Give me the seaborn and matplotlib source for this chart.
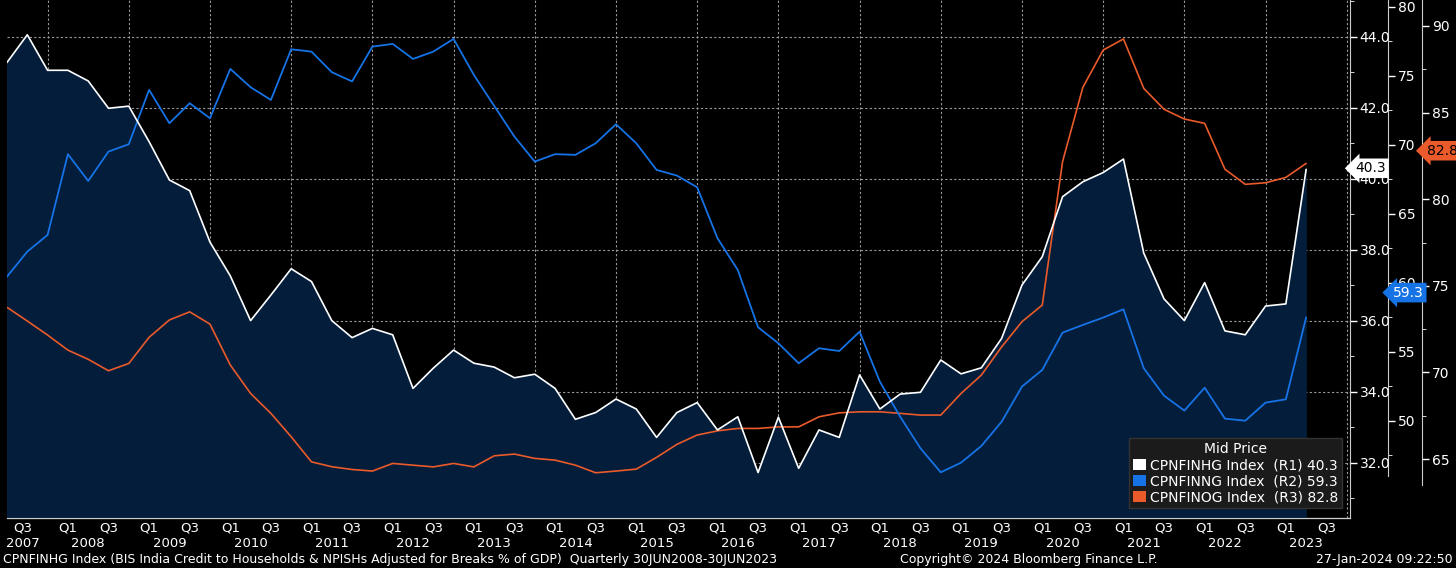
import numpy as np
import pandas as pd
import seaborn as sns
import matplotlib.pyplot as plt
from matplotlib.patches import Patch
from matplotlib.ticker import MultipleLocator, FixedLocator, FormatStrFormatter
import matplotlib.transforms as mtransforms

# quarterly points, Q3 2007 .. Q3 2023 (index 0..64)
households = [43.28, 44.06, 43.06, 43.06, 42.76, 41.99, 42.05, 41.05, 39.97, 39.67,
              38.22, 37.27, 36.01, 36.73, 37.47, 37.11, 36.01, 35.53, 35.79, 35.61,
              34.10, 34.67, 35.18, 34.81, 34.70, 34.40, 34.50, 34.10, 33.23, 33.42,
              33.80, 33.52, 32.72, 33.42, 33.70, 32.93, 33.30, 31.73, 33.29, 31.85,
              32.93, 32.72, 34.48, 33.52, 33.94, 33.99, 34.90, 34.51, 34.68, 35.51,
              37.01, 37.81, 39.50, 39.92, 40.18, 40.56, 37.91, 36.62, 36.01, 37.08,
              35.72, 35.61, 36.42, 36.48, 40.27]
nonfin_corp = [60.46, 62.27, 63.48, 69.33, 67.39, 69.52, 70.05, 73.99, 71.57, 73.02,
               71.93, 75.51, 74.18, 73.26, 76.93, 76.76, 75.27, 74.60, 77.12, 77.32,
               76.23, 76.76, 77.68, 75.07, 72.83, 70.60, 68.79, 69.33, 69.28, 70.12,
               71.50, 70.12, 68.19, 67.78, 66.93, 63.24, 60.94, 56.79, 55.63, 54.18,
               55.27, 55.07, 56.47, 52.85, 50.31, 48.02, 46.28, 46.98, 48.19, 49.95,
               52.49, 53.70, 56.40, 56.96, 57.49, 58.09, 53.82, 51.83, 50.75, 52.41,
               50.17, 50.02, 51.33, 51.57, 57.51]
government = [73.76, 72.97, 72.16, 71.29, 70.76, 70.10, 70.52, 72.03, 73.03, 73.50,
              72.79, 70.43, 68.79, 67.64, 66.29, 64.84, 64.56, 64.40, 64.31, 64.75,
              64.65, 64.55, 64.75, 64.55, 65.19, 65.29, 65.04, 64.94, 64.65, 64.21,
              64.31, 64.42, 65.10, 65.85, 66.39, 66.63, 66.77, 66.77, 66.86, 66.86,
              67.44, 67.67, 67.73, 67.73, 67.64, 67.54, 67.54, 68.79, 69.85, 71.48,
              72.93, 73.89, 82.17, 86.46, 88.61, 89.25, 86.40, 85.19, 84.63, 84.38,
              81.73, 80.86, 80.95, 81.26, 82.07]
years = list(range(2007, 2024))
last_vals = [40.3, 59.3, 82.8]
names = ["CPNFINHG Index", "CPNFINNG Index", "CPNFINOG Index"]

WHITE, BLUE, ORANGE = "#ffffff", "#1673e6", "#ea5a2a"
FILL = "#031d3a"
R1, R2, R3 = (30.45, 45.04), (42.97, 80.5), (61.6, 91.5)

df = pd.DataFrame({"q": np.arange(len(households)), "hh": households,
                   "nfc": nonfin_corp, "gov": government})
# blue and orange drawn on the main axes so they sit above the fill
df["nfc_r1"] = np.interp(df["nfc"], R2, R1)
df["gov_r1"] = np.interp(df["gov"], R3, R1)

sns.set_style("dark")
plt.rcParams.update({"figure.facecolor": "black", "axes.facecolor": "black",
                     "text.color": "white", "axes.edgecolor": "#bbbbbb"})
plt.rcParams["font.family"] = ["DejaVu Sans"]

fig = plt.figure(figsize=(14.56, 5.68), dpi=100)
ax = fig.add_axes([7 / 1456, 1 - 518 / 568, 1343 / 1456, 518 / 568])
ax2 = ax.twinx()
ax3 = ax.twinx()
ax.set_zorder(3)
ax.patch.set_visible(False)
ax2.set_zorder(2)
ax3.set_zorder(1)

ax.fill_between(df["q"], df["hh"], 0, color=FILL, zorder=1)
sns.lineplot(data=df, x="q", y="gov_r1", color=ORANGE, lw=1.2, ax=ax, zorder=3)
sns.lineplot(data=df, x="q", y="nfc_r1", color=BLUE, lw=1.3, ax=ax, zorder=3)
sns.lineplot(data=df, x="q", y="hh", color=WHITE, lw=1.2, ax=ax, zorder=4)
ax.set_ylim(*R1)
ax.set_xlim(0, 66.16)
ax2.set_ylim(*R2)
ax3.set_ylim(*R3)
ax2.spines["right"].set_position(("axes", 1.0283))
ax3.spines["right"].set_position(("axes", 1.0536))
ax2.spines["right"].set_bounds(46.0, R2[1])
ax3.spines["right"].set_bounds(63.5, R3[1])

for a in (ax, ax2, ax3):
    a.set_xlabel("")
    a.set_ylabel("")
    for s in ("top", "left"):
        a.spines[s].set_visible(False)

# y axes
ax.yaxis.tick_right()
ax.yaxis.set_major_locator(MultipleLocator(2))
ax.yaxis.set_minor_locator(MultipleLocator(1))
ax.yaxis.set_major_formatter(FormatStrFormatter("%.1f"))
ax2.yaxis.set_major_locator(FixedLocator([50, 55, 60, 65, 70, 75, 80]))
ax2.yaxis.set_minor_locator(FixedLocator([47.5, 52.5, 57.5, 62.5, 67.5, 72.5, 77.5]))
ax3.yaxis.set_major_locator(FixedLocator([65, 70, 75, 80, 85, 90]))
ax3.yaxis.set_minor_locator(FixedLocator([67.5, 72.5, 77.5, 82.5, 87.5]))
for a in (ax, ax2, ax3):
    a.tick_params(axis="y", which="both", colors="white", labelsize=10, direction="out")
    a.tick_params(axis="y", which="major", length=5, width=1, pad=2)
    a.tick_params(axis="y", which="minor", length=3)
    a.spines["right"].set_color("#cccccc")
    a.grid(False)
ax.grid(True, axis="y", which="major", color="#9a9a9a", ls=(0, (2, 2)), lw=0.8)

# x axis: year separators and quarter ticks
bounds = [2 + 4 * k for k in range(17)]
ax.set_xticks(bounds)
ax.set_xticks(np.arange(0, 67), minor=True)
ax.set_xticklabels([])
ax.tick_params(axis="x", which="major", length=23, width=0.8, colors="#cccccc", direction="out")
ax.tick_params(axis="x", which="minor", length=3, colors="#cccccc", direction="out")
ax.grid(True, axis="x", which="major", color="#9a9a9a", ls=(0, (2, 2)), lw=0.8)
ax.spines["bottom"].set_color("#cccccc")
for a in (ax2, ax3):
    a.tick_params(axis="x", bottom=False, labelbottom=False)

tr = mtransforms.blended_transform_factory(ax.transData, ax.transAxes)
qy, yy = -0.006, -0.036
for k, yr in enumerate(years):
    c = 4 * k
    if yr == 2007:
        ax.text(0.8, qy, "Q3", transform=tr, ha="center", va="top", fontsize=9.5, color="white")
        ax.text(0.8, yy, str(yr), transform=tr, ha="center", va="top", fontsize=9.5, color="white")
        continue
    ax.text(c - 1, qy, "Q1", transform=tr, ha="center", va="top", fontsize=9.5, color="white")
    ax.text(c + 1, qy, "Q3", transform=tr, ha="center", va="top", fontsize=9.5, color="white")
    ax.text(c, yy, str(yr), transform=tr, ha="center", va="top", fontsize=9.5, color="white")

# last-value tags
tag_style = dict(boxstyle="larrow,pad=0.2", ec="none")
ax.text(1.004, 40.3, f"{last_vals[0]:.1f}", transform=mtransforms.blended_transform_factory(ax.transAxes, ax.transData),
        va="center", ha="left", fontsize=10, color="black", bbox=dict(fc="white", **tag_style), zorder=10, clip_on=False)
ax2.text(1.032, 59.3, f"{last_vals[1]:.1f}", transform=mtransforms.blended_transform_factory(ax2.transAxes, ax2.transData),
         va="center", ha="left", fontsize=10, color="white", bbox=dict(fc=BLUE, **tag_style), zorder=10, clip_on=False)
ax3.text(1.057, 82.8, f"{last_vals[2]:.1f}", transform=mtransforms.blended_transform_factory(ax3.transAxes, ax3.transData),
         va="center", ha="left", fontsize=10, color="black", bbox=dict(fc=ORANGE, **tag_style), zorder=10, clip_on=False)

# legend
handles = [Patch(fc=c, ec="none") for c in (WHITE, BLUE, ORANGE)]
labels = [f"{n}  (R{i + 1}) {v:.1f}" for i, (n, v) in enumerate(zip(names, last_vals))]
leg = ax.legend(handles, labels, title="Mid Price", loc="lower right", bbox_to_anchor=(0.9995, 0.005),
                fontsize=10, title_fontsize=10, facecolor="#1b1b1b", edgecolor="#333333",
                framealpha=1, fancybox=False, handlelength=0.9, handleheight=0.9,
                handletextpad=0.3, borderpad=0.3, labelspacing=0.15)
leg.get_title().set_color("white")
for t in leg.get_texts():
    t.set_color("white")
leg.set_zorder(20)

# footer
fig.text(0.002, 0.003, "CPNFINHG Index (BIS India Credit to Households & NPISHs Adjusted for Breaks % of GDP)  "
         "Quarterly 30JUN2008-30JUN2023", fontsize=9, color="white", ha="left", va="bottom")
fig.text(0.618, 0.003, "Copyright\u00a9 2024 Bloomberg Finance L.P.", fontsize=9, color="white", ha="left", va="bottom")
fig.text(0.998, 0.003, "27-Jan-2024 09:22:50", fontsize=9, color="white", ha="right", va="bottom")

fig.savefig("out.png", dpi=100, facecolor="black")
